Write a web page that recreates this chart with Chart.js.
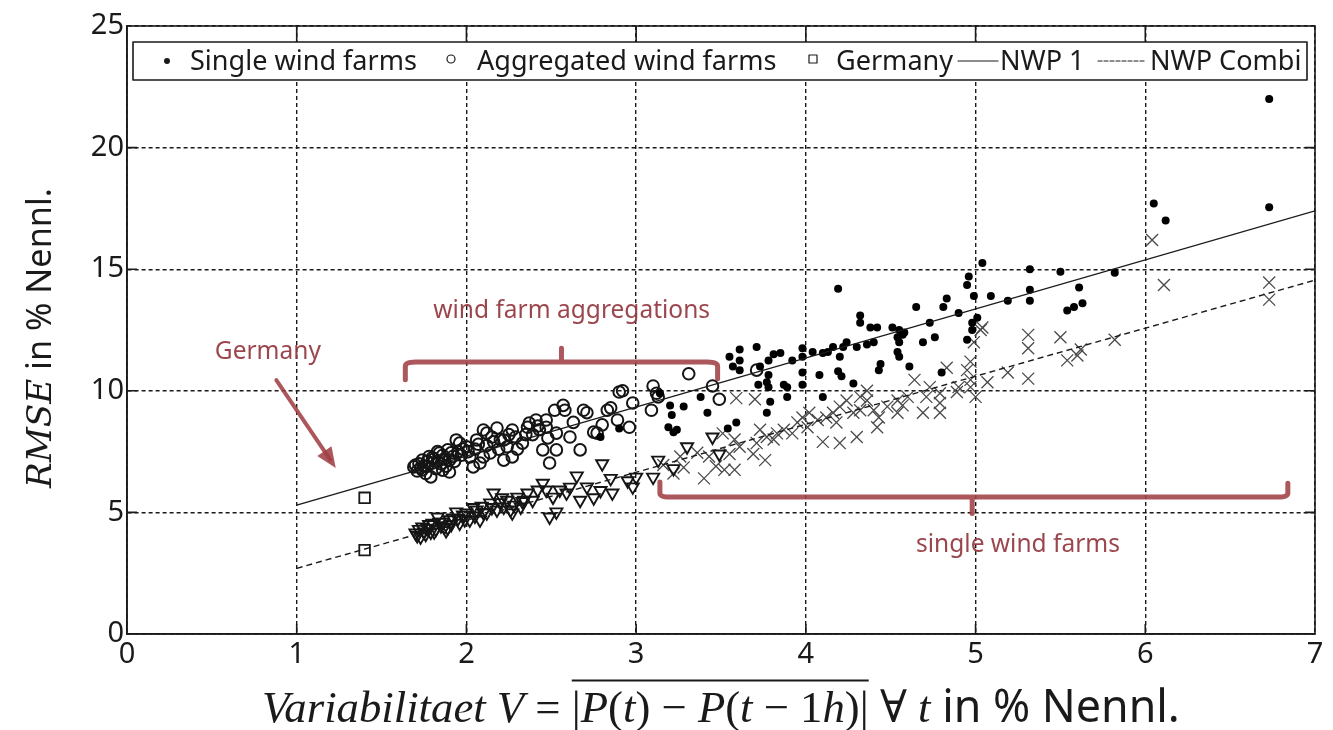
<!DOCTYPE html>
<html>
<head>
<meta charset="utf-8">
<script src="https://cdn.jsdelivr.net/npm/chart.js@4"></script>
<style>
  html, body { margin: 0; padding: 0; background: #fff; }
  #wrap { width: 1333px; height: 730px; }
</style>
</head>
<body>
<div id="wrap"><canvas id="rmseChart" width="1333" height="730"></canvas></div>
<script>
// --- values ---
const xTicks = [0, 1, 2, 3, 4, 5, 6, 7];
const yTicks = [0, 5, 10, 15, 20, 25];

// single wind farms, NWP 1 (filled dots)
const singleX = [2.79,2.9,3.14,3.2,3.28,3.21,3.19,3.24,3.22,3.38, 3.42,3.54,3.59,3.55,3.57,3.61,3.61,3.61,3.71,3.73, 3.72,3.78,3.77,3.78,3.78,3.81,3.85,3.79,3.77,3.87, 3.89,3.89,3.92,3.98,3.98,3.98,3.98,4.04,4.08,4.1, 4.1,4.13,4.16,4.19,4.2,4.22,4.24,4.19,4.21,4.28, 4.3,4.32,4.32,4.36,4.38,4.4,4.42,4.44,4.43,4.51, 4.55,4.58,4.54,4.55,4.57,4.54,4.55,4.61,4.65,4.69, 4.73,4.76,4.8,4.81,4.83,4.9,4.95,4.95,4.96,4.98, 4.98,4.99,5.01,5.04,5.09,5.19,5.32,5.32,5.32,5.5, 5.54,5.58,5.63,5.61,5.82,6.05,6.12,6.73,6.73];
const singleY = [8.1,8.45,9.9,9.4,9.35,9.0,8.5,8.4,8.3,9.75, 9.1,8.45,8.7,11.4,11.0,11.7,11.25,10.85,11.8,11.0, 10.25,10.65,10.35,10.15,11.25,11.5,11.55,9.55,9.1,10.25, 9.75,10.15,11.25,11.75,11.4,10.75,10.25,11.6,10.65,11.55, 9.75,11.6,11.8,10.8,11.4,11.8,12.0,14.2,10.6,10.3, 11.8,13.1,12.8,11.9,12.6,12.0,12.6,11.1,10.85,12.6, 12.5,12.4,12.2,12.0,12.3,11.6,11.4,11.0,13.45,12.0, 12.8,12.2,10.75,13.45,13.8,13.2,12.1,14.35,14.7,12.8, 12.5,13.9,13.0,15.25,13.9,13.7,15.0,14.15,13.7,14.9, 13.3,13.45,13.6,14.25,14.85,17.7,17.0,17.55,22.0];

// aggregated wind farms, NWP 1 (open circles)
const aggX = [1.69,1.72,1.73,1.74,1.76,1.78,1.79,1.8,1.82,1.83, 1.84,1.85,1.86,1.87,1.89,1.9,1.9,1.92,1.94,1.95, 1.96,2.0,2.02,2.04,2.06,2.08,2.1,2.1,2.12,2.14, 2.16,2.18,2.2,2.22,2.22,2.25,2.27,2.27,2.3,2.33, 2.36,2.37,2.39,2.41,2.43,2.45,2.47,2.47,2.48,2.49, 2.52,2.53,2.53,2.57,2.58,2.61,2.63,2.67,2.69,2.71, 2.75,2.77,2.8,2.83,2.85,2.89,2.9,2.92,2.96,2.98, 3.09,3.1,3.12,3.13,3.31,3.45,3.49,3.71, 1.71,1.75,1.77,1.81,1.88,1.93,1.97,2.05,2.15,2.24, 1.7,1.74,1.77,1.8,1.83,1.86,1.91,1.98,2.01,2.07, 2.12,2.19,2.29,2.35,2.42];
const aggY = [6.87,7.0,6.83,7.15,6.6,7.3,6.46,7.03,6.8,7.5, 7.44,7.0,6.74,7.2,7.57,7.15,6.66,7.3,7.98,7.5, 7.85,7.7,7.28,6.87,7.98,7.03,7.28,8.39,8.26,7.44, 7.9,8.47,8.0,7.15,7.98,8.2,7.28,8.39,7.6,7.85, 8.5,8.67,8.2,8.8,8.4,7.57,8.5,8.8,8.06,7.03, 9.2,8.26,7.57,9.4,9.2,8.1,8.7,7.57,9.2,9.1, 8.3,8.26,8.6,9.2,9.3,8.8,9.95,10.0,8.5,9.5, 9.2,10.2,9.9,9.75,10.7,10.2,9.65,10.85, 6.7,6.9,7.1,7.2,6.9,7.1,7.35,7.6,8.1,7.7, 6.95,6.75,6.9,7.25,7.1,7.35,7.45,7.6,7.5,7.8, 7.75,7.6,8.1,8.2,8.55];

// aggregated wind farms, NWP Combi (open triangles)
const aggCX = [1.7,1.72,1.73,1.74,1.76,1.78,1.79,1.8,1.82,1.83, 1.85,1.86,1.88,1.89,1.9,1.92,1.94,1.96,1.98,2.0, 2.02,2.04,2.06,2.08,2.1,2.12,2.14,2.16,2.18,2.2, 2.22,2.24,2.27,2.28,2.3,2.32,2.34,2.36,2.39,2.42, 2.45,2.47,2.49,2.51,2.53,2.55,2.59,2.61,2.65,2.67, 2.71,2.75,2.79,2.8,2.85,2.86,2.95,2.98,3.0,3.1, 3.13,3.22,3.3,3.45,3.49, 1.71,1.75,1.77,1.81,1.84,1.87,1.91,1.95,1.99,2.05, 2.09,2.15,2.21,2.26,2.33];
const aggCY = [4.15,4.3,3.99,4.4,4.1,4.5,4.19,4.56,4.3,4.81, 4.45,4.6,4.25,4.36,4.7,4.77,5.02,4.56,4.9,4.98, 4.69,5.2,5.1,4.69,5.0,4.98,5.39,5.8,5.1,5.4, 5.22,5.5,4.98,5.3,5.63,5.22,5.5,5.8,5.5,5.92, 6.2,5.92,4.81,5.63,5.02,5.92,5.8,6.04,6.5,5.5, 6.05,5.6,5.9,7.0,6.4,5.8,6.3,6.05,6.45,6.45, 7.15,6.8,7.7,8.1,7.4, 4.05,4.2,4.35,4.2,4.6,4.4,4.5,4.75,4.7,4.85, 5.25,5.2,5.6,5.1,5.45];

// single wind farms, NWP Combi (crosses)
const singleCX = [3.16,3.22,3.26,3.28,3.36,3.4,3.43,3.47,3.51,3.52, 3.55,3.58,3.58,3.59,3.61,3.69,3.7,3.71,3.73,3.76, 3.77,3.81,3.83,3.87,3.92,3.95,3.98,4.01,4.02,4.07, 4.1,4.12,4.16,4.18,4.2,4.2,4.24,4.28,4.3,4.32, 4.32,4.36,4.36,4.4,4.42,4.43,4.48,4.54,4.54,4.57, 4.6,4.64,4.69,4.71,4.73,4.79,4.79,4.79,4.83,4.89, 4.9,4.95,4.97,4.97,4.97,4.99,5.0,5.03,5.04,5.07, 5.19,5.31,5.31,5.31,5.5,5.54,5.6,5.62,5.82,6.04, 6.11,6.73,6.73];
const singleCY = [6.95,6.6,7.3,6.85,7.45,6.4,7.3,6.9,8.25,6.75, 7.4,8.0,6.75,9.7,7.7,7.4,9.65,7.85,8.4,7.15, 8.1,8.0,8.25,8.4,8.25,8.7,8.9,8.5,9.1,8.8, 7.9,8.9,9.1,8.7,9.35,7.85,9.6,9.1,8.1,9.2, 9.75,9.6,10.0,9.2,8.5,8.9,9.35,9.6,9.1,9.4, 9.75,10.45,9.1,9.75,10.15,9.9,9.5,9.1,10.95,9.95, 10.15,10.85,11.2,10.45,10.15,12.0,9.75,12.5,12.6,10.35, 10.75,12.3,11.75,10.5,12.2,11.25,11.45,11.7,12.1,16.2, 14.35,14.45,13.75];

// Germany (squares), NWP 1 and NWP Combi
const germanyX = [1.4, 1.4];
const germanyY = [5.6, 3.45];

// fitted lines
const nwp1X = [1, 7];
const nwp1Y = [5.3, 17.4];
const combiX = [1, 7];
const combiY = [2.7, 14.55];

const toPoints = (xs, ys) => xs.map((x, i) => ({ x: x, y: ys[i] }));

const INK = '#1a1a1a';
const RED = 'rgba(160, 64, 70, 0.88)';
const SANS = '"Noto Sans", "Open Sans", sans-serif';
const SERIF = '"Liberation Serif", "DejaVu Serif", serif';
const WIDE_SERIF = '"DejaVu Serif", serif';

// split a formula into italic letters and upright symbols
function mathRuns(str, over, family) {
  const runs = [];
  for (const ch of str) {
    const it = /[A-Za-z]/.test(ch);
    const last = runs[runs.length - 1];
    if (last && last.italic === it) last.text += ch;
    else runs.push({ text: ch, italic: it, family: family || SERIF, over: !!over });
  }
  return runs;
}

function segFont(seg, size) {
  return (seg.italic ? 'italic ' : '') + size + 'px ' + (seg.family || SANS);
}

function richWidth(ctx, segs, size) {
  let w = 0;
  segs.forEach(s => { ctx.font = segFont(s, size); w += ctx.measureText(s.text).width; });
  return w;
}

// draw mixed-font text centred on cx, baseline at by, sized to fill target width
function drawRich(ctx, segs, cx, by, target) {
  const size = 40 * target / richWidth(ctx, segs, 40);
  let x = cx - target / 2;
  let overStart = null, overEnd = null;
  ctx.textAlign = 'left';
  ctx.textBaseline = 'alphabetic';
  ctx.fillStyle = INK;
  segs.forEach(s => {
    ctx.font = segFont(s, size);
    const w = ctx.measureText(s.text).width;
    ctx.fillText(s.text, x, by);
    if (s.over) {
      if (overStart === null) overStart = x;
      overEnd = x + w;
    }
    x += w;
  });
  if (overStart !== null) {
    ctx.strokeStyle = INK;
    ctx.lineWidth = 2;
    ctx.beginPath();
    ctx.moveTo(overStart, by - size * 0.93);
    ctx.lineTo(overEnd, by - size * 0.93);
    ctx.stroke();
  }
}

function fitSize(ctx, text, family, target) {
  ctx.font = '40px ' + family;
  return 40 * target / ctx.measureText(text).width;
}

const decor = {
  id: 'decor',
  afterDatasetsDraw(chart) {
    const { ctx, chartArea: a, scales: { x, y } } = chart;
    const px = v => x.getPixelForValue(v);
    const py = v => y.getPixelForValue(v);
    ctx.save();

    // plot box and inner ticks (matlab style)
    ctx.strokeStyle = INK;
    ctx.lineWidth = 1.6;
    ctx.setLineDash([]);
    ctx.strokeRect(a.left, a.top, a.right - a.left, a.bottom - a.top);
    const tl = 10;
    ctx.beginPath();
    xTicks.slice(1, -1).forEach(v => {
      ctx.moveTo(px(v), a.bottom); ctx.lineTo(px(v), a.bottom - tl);
      ctx.moveTo(px(v), a.top); ctx.lineTo(px(v), a.top + tl + 6);
    });
    yTicks.slice(1, -1).forEach(v => {
      ctx.moveTo(a.left, py(v)); ctx.lineTo(a.left + tl, py(v));
      ctx.moveTo(a.right, py(v)); ctx.lineTo(a.right - tl, py(v));
    });
    ctx.stroke();

    // annotations in data coordinates
    ctx.strokeStyle = RED;
    ctx.fillStyle = RED;
    ctx.lineCap = 'round';
    ctx.lineJoin = 'round';
    ctx.lineWidth = 5;
    // wind farm aggregations bracket
    ctx.beginPath();
    ctx.moveTo(px(1.64), py(10.45));
    ctx.lineTo(px(1.64), py(11.0));
    ctx.quadraticCurveTo(px(1.64), py(11.18), px(1.7), py(11.18));
    ctx.lineTo(px(3.42), py(11.18));
    ctx.quadraticCurveTo(px(3.48), py(11.18), px(3.48), py(11.0));
    ctx.lineTo(px(3.48), py(10.5));
    ctx.moveTo(px(2.56), py(11.18));
    ctx.lineTo(px(2.56), py(11.75));
    ctx.stroke();
    // single wind farms bracket
    ctx.beginPath();
    ctx.moveTo(px(3.14), py(6.25));
    ctx.lineTo(px(3.14), py(5.8));
    ctx.quadraticCurveTo(px(3.14), py(5.63), px(3.2), py(5.63));
    ctx.lineTo(px(6.78), py(5.63));
    ctx.quadraticCurveTo(px(6.84), py(5.63), px(6.84), py(5.8));
    ctx.lineTo(px(6.84), py(6.2));
    ctx.moveTo(px(4.98), py(5.63));
    ctx.lineTo(px(4.98), py(4.95));
    ctx.stroke();
    // Germany arrow
    const ax0 = px(0.88), ay0 = py(10.44), ax1 = px(1.23), ay1 = py(6.83);
    const ang = Math.atan2(ay1 - ay0, ax1 - ax0);
    ctx.lineWidth = 4;
    ctx.beginPath();
    ctx.moveTo(ax0, ay0);
    ctx.lineTo(ax1 - 10 * Math.cos(ang), ay1 - 10 * Math.sin(ang));
    ctx.stroke();
    ctx.beginPath();
    ctx.moveTo(ax1, ay1);
    ctx.lineTo(ax1 - 22 * Math.cos(ang - 0.4), ay1 - 22 * Math.sin(ang - 0.4));
    ctx.lineTo(ax1 - 22 * Math.cos(ang + 0.4), ay1 - 22 * Math.sin(ang + 0.4));
    ctx.closePath();
    ctx.fill();

    ctx.fillStyle = 'rgba(150, 60, 66, 0.95)';
    ctx.textAlign = 'center';
    ctx.textBaseline = 'middle';
    ctx.font = '24.5px ' + SANS;
    ctx.fillText('Germany', px(0.83), py(11.6));
    ctx.fillText('wind farm aggregations', px(2.62), py(13.28));
    ctx.fillText('single wind farms', px(5.25), py(3.66));

    // legend box inside the plot
    const lt = a.top + 16, lb = a.top + 54, lm = (lt + lb) / 2;
    ctx.fillStyle = '#fff';
    ctx.fillRect(a.left + 6, lt, a.right - a.left - 14, lb - lt);
    ctx.strokeStyle = INK;
    ctx.lineWidth = 1.6;
    ctx.strokeRect(a.left + 6, lt, a.right - a.left - 14, lb - lt);
    const lsize = fitSize(ctx, 'Single wind farms', SANS, 227);
    ctx.font = lsize + 'px ' + SANS;
    ctx.fillStyle = INK;
    ctx.textAlign = 'left';
    ctx.textBaseline = 'middle';
    ctx.fillText('Single wind farms', 190, lm + 1);
    ctx.fillText('Aggregated wind farms', 477, lm + 1);
    ctx.fillText('Germany', 836, lm + 1);
    ctx.fillText('NWP 1', 1000, lm + 1);
    ctx.fillText('NWP Combi', 1150, lm + 1);
    ctx.beginPath(); ctx.arc(167, lm, 3, 0, Math.PI * 2); ctx.fill();
    ctx.lineWidth = 1.2;
    ctx.beginPath(); ctx.arc(451, lm - 2, 4, 0, Math.PI * 2); ctx.stroke();
    ctx.strokeRect(809, lm - 6, 8, 8);
    ctx.beginPath(); ctx.moveTo(958, lm); ctx.lineTo(998, lm); ctx.stroke();
    ctx.setLineDash([4, 2]);
    ctx.beginPath(); ctx.moveTo(1098, lm); ctx.lineTo(1145, lm); ctx.stroke();
    ctx.setLineDash([]);
    ctx.restore();
  },
  afterDraw(chart) {
    const { ctx } = chart;
    ctx.save();
    // x axis title
    const xSegs = [].concat(
      mathRuns('Variabilitaet'),
      [{ text: ' ', family: SERIF }],
      mathRuns('V = '),
      mathRuns('|P(t) \u2212 P(t \u2212 1h)|', true),
      mathRuns(' \u2200 t'),
      [{ text: ' in % Nennl.', family: SANS }]
    );
    drawRich(ctx, xSegs, 721, 722, 918);
    // y axis title, rotated
    ctx.translate(51, 338);
    ctx.rotate(-Math.PI / 2);
    const ySegs = [].concat(mathRuns('RMSE', false, WIDE_SERIF), [{ text: ' in % Nennl.', family: SANS }]);
    drawRich(ctx, ySegs, 0, 0, 300);
    ctx.restore();
  }
};

const ctx = document.getElementById('rmseChart').getContext('2d');
new Chart(ctx, {
  type: 'scatter',
  data: {
    datasets: [
      {
        label: 'NWP 1',
        data: toPoints(nwp1X, nwp1Y),
        showLine: true,
        borderColor: INK,
        borderWidth: 1.4,
        pointRadius: 0
      },
      {
        label: 'NWP Combi',
        data: toPoints(combiX, combiY),
        showLine: true,
        borderColor: INK,
        borderWidth: 1.4,
        borderDash: [6, 4],
        pointRadius: 0
      },
      {
        label: 'Germany',
        data: toPoints(germanyX, germanyY),
        pointStyle: 'rect',
        pointRadius: 7.5,
        backgroundColor: 'rgba(255,255,255,0)',
        borderColor: INK,
        borderWidth: 1.8
      },
      {
        label: 'Single wind farms',
        data: toPoints(singleX, singleY),
        pointStyle: 'circle',
        pointRadius: 4,
        backgroundColor: '#000',
        borderWidth: 0
      },
      {
        label: 'Aggregated wind farms',
        data: toPoints(aggX, aggY),
        pointStyle: 'circle',
        pointRadius: 5.8,
        backgroundColor: 'rgba(255,255,255,0)',
        borderColor: '#151515',
        borderWidth: 2
      },
      {
        label: 'Aggregated wind farms (NWP Combi)',
        data: toPoints(aggCX, aggCY),
        pointStyle: 'triangle',
        rotation: 180,
        pointRadius: 7,
        backgroundColor: 'rgba(255,255,255,0)',
        borderColor: '#151515',
        borderWidth: 1.9
      },
      {
        label: 'Single wind farms (NWP Combi)',
        data: toPoints(singleCX, singleCY),
        pointStyle: 'crossRot',
        pointRadius: 8.5,
        borderColor: '#4a4a4a',
        borderWidth: 1.3
      }
    ]
  },
  options: {
    responsive: false,
    animation: false,
    layout: { padding: { top: 26, right: 18, left: 0, bottom: 0 } },
    plugins: {
      legend: { display: false },
      tooltip: { enabled: false }
    },
    scales: {
      x: {
        type: 'linear',
        min: 0,
        max: 7,
        afterFit: s => { s.height = 96; },
        afterBuildTicks: s => { s.ticks = xTicks.map(v => ({ value: v })); },
        ticks: { color: INK, font: { family: SANS, size: 29 }, padding: 3 },
        grid: { color: INK, lineWidth: 1.4, drawTicks: false },
        border: { display: true, color: INK, width: 1.6, dash: [4, 3] }
      },
      y: {
        type: 'linear',
        min: 0,
        max: 25,
        afterFit: s => { s.width = 127; },
        afterBuildTicks: s => { s.ticks = yTicks.map(v => ({ value: v })); },
        ticks: { color: INK, font: { family: SANS, size: 29 }, padding: 3 },
        grid: { color: INK, lineWidth: 1.4, drawTicks: false },
        border: { display: true, color: INK, width: 1.6, dash: [4, 3] }
      }
    }
  },
  plugins: [decor]
});
</script>
</body>
</html>
